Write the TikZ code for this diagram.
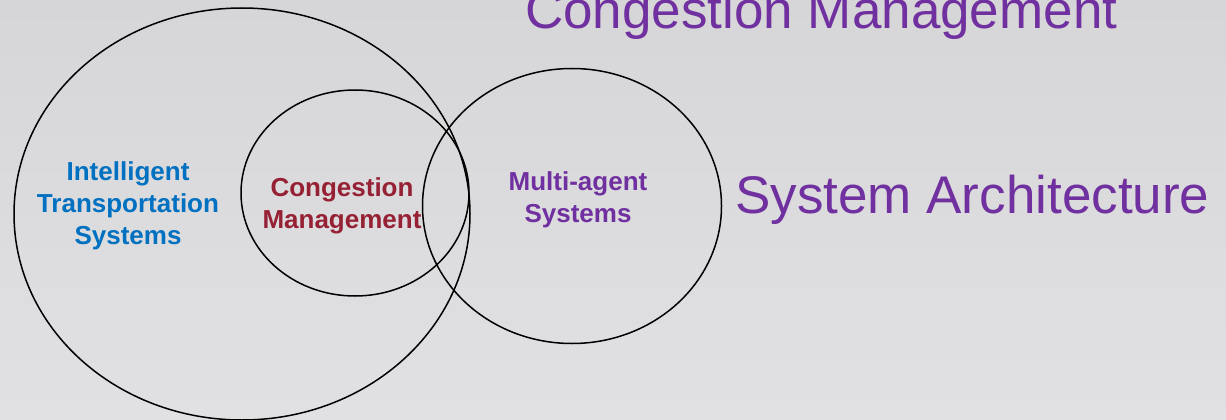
\documentclass[tikz,border=0pt]{standalone}
\usepackage{fontspec}
\setmainfont{Liberation Sans}
\usetikzlibrary{shapes.geometric}
\definecolor{itsblue}{RGB}{0,112,192}
\definecolor{cmred}{RGB}{150,32,52}
\definecolor{maspurple}{RGB}{112,48,160}

\begin{document}
\begin{tikzpicture}[x=1pt,y=-1pt]
    \tikzstyle{ring}=[
        draw = black,
        line width = 1.5pt,
        ellipse,
        inner sep = 0pt
    ]
    \tikzstyle{term}=[
        font = \fontsize{26}{32}\selectfont\bfseries,
        align = center
    ]
    \tikzstyle{heading}=[
        font = \fontsize{53}{60}\selectfont,
        text = maspurple,
        inner sep = 0pt
    ]

    \useasboundingbox (0,0) rectangle (1226,420);
    \clip (0,0) rectangle (1226,420);
    \shade[top color={rgb,255:red,214;green,213;blue,215},
           bottom color={rgb,255:red,225;green,224;blue,226}] (0,0) rectangle (1226,420);

    % the three sets
    \node[ring, minimum width = 456pt, minimum height = 412pt] (its) at (242, 214) {};
    \node[ring, minimum width = 228pt, minimum height = 206pt] (cm)  at (355, 193) {};
    \node[ring, minimum width = 299pt, minimum height = 275pt] (mas) at (572, 206) {};

    \node[term, text = itsblue]   (itslabel) at (128, 206) {Intelligent\\Transportation\\Systems};
    \node[term, text = cmred]     (cmlabel)  at (342, 206) {Congestion\\Management};
    \node[term, text = maspurple] (maslabel) at (578, 200) {Multi-agent\\Systems};

    \node[heading, anchor = base west] (top)  at (525, 29)  {Congestion Management};
    \node[heading, anchor = base west] (arch) at (735, 213) {System Architecture};

\end{tikzpicture}
\end{document}
